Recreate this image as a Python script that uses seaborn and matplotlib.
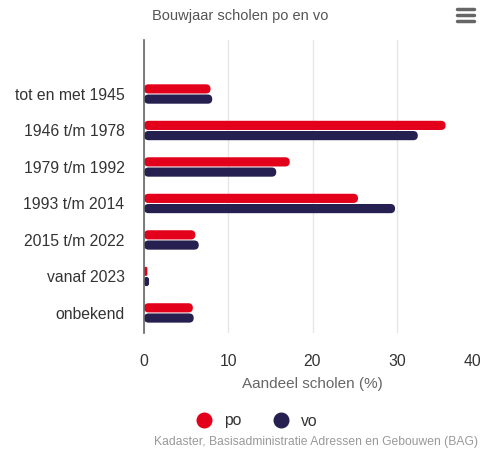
import pandas as pd
import matplotlib
matplotlib.use("Agg")
import matplotlib.pyplot as plt
import seaborn as sns
from matplotlib.lines import Line2D
from matplotlib.patches import FancyBboxPatch

categories = ["tot en met 1945", "1946 t/m 1978", "1979 t/m 1992", "1993 t/m 2014",
              "2015 t/m 2022", "vanaf 2023", "onbekend"]
po = [7.9, 35.8, 17.3, 25.4, 6.1, 0.4, 5.8]
vo = [8.1, 32.5, 15.7, 29.8, 6.5, 0.6, 5.9]
series = ["po", "vo"]
colors = {"po": "#e2001a", "vo": "#25204f"}
x_ticks = [0, 10, 20, 30, 40]

df = pd.DataFrame({
    "categorie": categories * 2,
    "waarde": po + vo,
    "soort": ["po"] * len(po) + ["vo"] * len(vo),
})

sns.set_theme(style="white")
plt.rcParams["font.family"] = ["Liberation Sans", "DejaVu Sans"]

fig = plt.figure(figsize=(4.81, 4.49), dpi=100)
ax = fig.add_axes([144 / 481, 1 - 333 / 449, 1 - 144 / 481, (333 - 40) / 449])

sns.barplot(data=df, x="waarde", y="categorie", hue="soort", order=categories,
            hue_order=series, palette=colors, orient="h", width=0.56, gap=0.1,
            saturation=1, legend=False, ax=ax, zorder=3)

ax.set_xlim(0, 40)
ax.set_ylim(6.55, -1.48)

# rounded bar ends (like the original)
x_per_px = 40 / 337
y_per_px = 8.03 / 293
for p in list(ax.patches):
    x0, y0 = p.get_x(), p.get_y()
    w, h = p.get_width(), p.get_height()
    r = min(abs(h) / 2 / y_per_px * x_per_px, w / 2)
    fb = FancyBboxPatch((x0, y0), w, h, boxstyle=f"round,pad=0,rounding_size={r}",
                        mutation_aspect=y_per_px / x_per_px,
                        facecolor=p.get_facecolor(), edgecolor="none", zorder=3)
    p.remove()
    ax.add_patch(fb)

ax.set_xticks(x_ticks)
ax.xaxis.grid(True, color="#e6e6e6", linewidth=1, zorder=0)
ax.yaxis.grid(False)
for s in ["top", "right", "bottom"]:
    ax.spines[s].set_visible(False)
ax.spines["left"].set_color("#666666")
ax.spines["left"].set_linewidth(1.2)
ax.spines["left"].set_zorder(4)
ax.tick_params(axis="both", length=0)
ax.tick_params(axis="y", labelsize=11.3, labelcolor="#333333", pad=14)
ax.tick_params(axis="x", labelsize=11.3, labelcolor="#333333", pad=15)
ax.set_ylabel("")
ax.set_xlabel("Aandeel scholen (%)", fontsize=11, color="#666666", labelpad=6)
lbls = ax.get_xticklabels()
lbls[-1].set_horizontalalignment("right")

fig.text(0.5, 1 - 16 / 449, "Bouwjaar scholen po en vo", ha="center", va="center",
         fontsize=10.5, color="#555555")

# hamburger icon
for yy in [9, 15, 21]:
    fig.add_artist(Line2D([457 / 481, 474 / 481], [1 - yy / 449] * 2, color="#666666",
                          linewidth=2.5, solid_capstyle="round"))

handles = [Line2D([], [], marker="o", linestyle="", markersize=10.5,
                  markerfacecolor=colors[s], markeredgecolor=colors[s]) for s in series]
fig.legend(handles, series, loc="center", bbox_to_anchor=(253 / 481, 1 - 421 / 449),
           ncol=2, frameon=False, fontsize=11.3, handletextpad=0.3, columnspacing=1.5,
           labelcolor="#333333")

fig.text(478 / 481, 1 - 442 / 449, "Kadaster, Basisadministratie Adressen en Gebouwen (BAG)",
         ha="right", va="center", fontsize=8.7, color="#999999")

fig.savefig("out.png", dpi=100)
